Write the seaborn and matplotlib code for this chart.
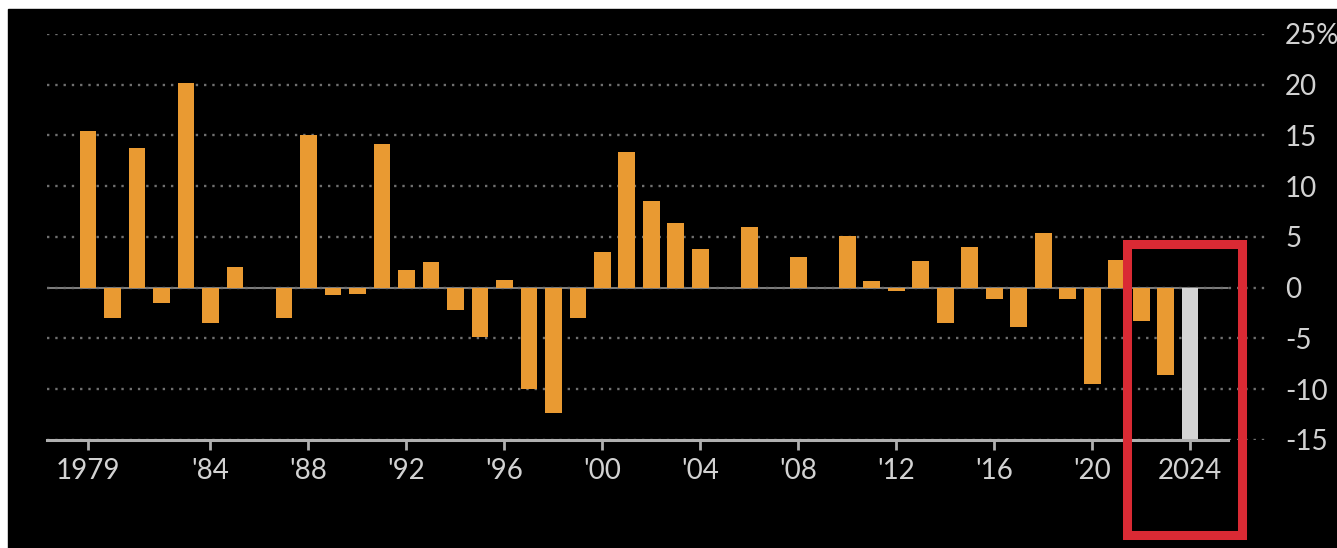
import numpy as np
import pandas as pd
import matplotlib
matplotlib.use("Agg")
import matplotlib.pyplot as plt
import seaborn as sns
from matplotlib.patches import Rectangle

# 数据：1979-2024 年度变化 (%)
years = list(range(1979, 2025))
growth = [15.4, -3.0, 13.8, -1.5, 20.2, -3.5, 2.0, 0.0, -3.0, 15.0,
          -0.7, -0.6, 14.2, 1.7, 2.5, -2.2, -4.9, 0.8, -10.0, -12.3,
          -3.0, 3.5, 13.4, 8.5, 6.4, 3.8, 0.0, 6.0, 0.0, 3.0,
          0.0, 5.1, 0.7, -0.35, 2.6, -3.5, 4.0, -1.1, -3.9, 5.4,
          -1.1, -9.5, 2.7, -3.3, -8.6, -15.0]
tick_years = [1979, 1984, 1988, 1992, 1996, 2000, 2004, 2008, 2012, 2016, 2020, 2024]
tick_labels = ["1979", "'84", "'88", "'92", "'96", "'00", "'04", "'08", "'12", "'16", "'20", "2024"]
y_ticks = [-15, -10, -5, 0, 5, 10, 15, 20, 25]
y_labels = ["-15", "-10", "-5", "0", "5", "10", "15", "20", "25%"]

orange = "#E99A32"
grey_bar = "#D4D4D4"
text_c = "#D2D2D2"
bar_colors = [orange] * (len(years) - 1) + [grey_bar]

df = pd.DataFrame({"year": [str(y) for y in years], "growth": growth})

sns.set_theme(style="dark")
plt.rcParams["font.family"] = ["Lato", "DejaVu Sans"]
plt.rcParams["axes.unicode_minus"] = False

fig = plt.figure(figsize=(13.37, 5.48), dpi=100)
fig.patch.set_facecolor("white")
fig.patches.append(Rectangle((8 / 1337, 0), 1, (548 - 9) / 548,
                             transform=fig.transFigure, color="black", zorder=-10))

ax = fig.add_axes([0.0352, 0.1971, 0.9125, 0.741])
ax.set_facecolor("black")

sns.barplot(data=df, x="year", y="growth", hue="year", palette=bar_colors,
            dodge=False, legend=False, width=0.68, saturation=1, linewidth=0, ax=ax)

x0, x1 = -1.67, 48.14
axis_end = 46.55
ax.set_xlim(x0, x1)
ax.set_ylim(-15, 25)

# 网格线（点线）和零线
ax.set_axisbelow(True)
ax.yaxis.grid(True, linestyle=(0, (1, 2.5)), color="#707070", lw=1.7)
ax.xaxis.grid(False)
ax.axhline(0, xmin=0, xmax=(axis_end - x0) / (x1 - x0), color="#8a8a8a", lw=1.3, zorder=0.5)

for s in ["top", "left", "right"]:
    ax.spines[s].set_visible(False)
ax.spines["bottom"].set_color("#b0b0b0")
ax.spines["bottom"].set_linewidth(2.2)
ax.spines["bottom"].set_bounds(x0, axis_end)

# 坐标轴刻度
ax.set_xticks([years.index(y) for y in tick_years])
ax.set_xticklabels(tick_labels)
ax.tick_params(axis="x", bottom=True, length=7, width=2, color="#b0b0b0",
               pad=6, labelsize=20, labelcolor=text_c)
ax.yaxis.tick_right()
ax.set_yticks(y_ticks)
ax.set_yticklabels(y_labels)
ax.tick_params(axis="y", length=0, pad=13, labelsize=20, labelcolor=text_c)
ax.set_xlabel("")
ax.set_ylabel("")

# 红色框：2022-2024
i22 = years.index(2022)
i24 = years.index(2024)
ax.add_patch(Rectangle((i22 - 0.57, -24.4), (i24 + 2.12) - (i22 - 0.57), 4.33 + 24.4,
                       fill=False, edgecolor="#D92A34", lw=6.5, clip_on=False, zorder=5))

fig.savefig("out.png", dpi=100, facecolor=fig.get_facecolor())
